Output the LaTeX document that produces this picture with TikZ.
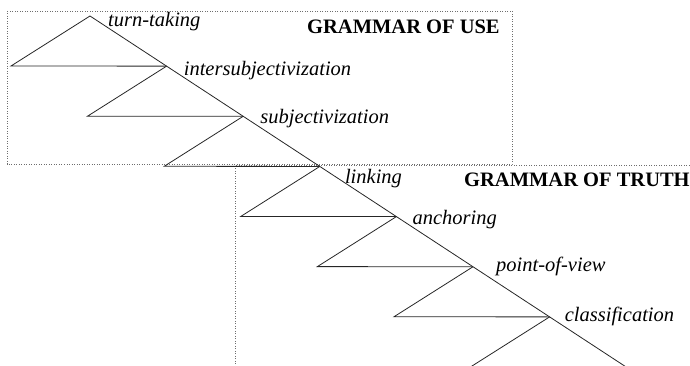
\documentclass[tikz,border=0pt]{standalone}
\usepackage{fontspec}
\setmainfont{Liberation Serif}
\usetikzlibrary{calc}
\definecolor{frm}{RGB}{110,110,110}

\begin{document}
\begin{tikzpicture}[x=1pt, y=-1pt, font=\fontsize{20.5}{24}\selectfont,
  frame/.style={draw=frm, line width=0.9pt, dash pattern=on 0.9pt off 1.6pt},
  branch/.style={draw=black!85, line width=0.8pt},
  lab/.style={anchor=base west, inner sep=0pt, font=\fontsize{20.5}{24}\selectfont\itshape},
  head/.style={anchor=base west, inner sep=0pt, font=\fontsize{20.5}{24}\selectfont\bfseries}]
\useasboundingbox (0,0) rectangle (690,366);
\clip (0,0) rectangle (690,366);
% the two grammars
\draw[frame] (7,11) rectangle (512,164);
\draw[frame] (692,165.5) -- (235,165.5) -- (235,368);
\node[head] (use) at (307,34) {GRAMMAR OF USE};
\node[head] (truth) at (464,186) {GRAMMAR OF TRUTH};
% spine and triangles
\foreach \i in {0,...,7}
  \coordinate (p\i) at (90+76.6*\i, 16+50.15*\i);
\draw[branch] (p0) -- ($(p7)+(2,1.3)$);
\foreach \i [evaluate=\i as \j using int(\i+1)] in {0,...,6} {
  \coordinate (q\i) at ($(p\i)+(-79,50)$);
  \draw[branch] (p\i) -- (q\i) -- (p\j);
}
% labels
\foreach \i/\dx/\dy/\t in {0/18/11/turn-taking, 1/17/9/intersubjectivization,
    2/17/7/subjectivization, 3/25/17/linking, 4/16/8/anchoring,
    5/23/5/point-of-view, 6/15/5/classification}
  \node[lab] (l\i) at ($(p\i)+(\dx,\dy)$) {\t};
\end{tikzpicture}
\end{document}
